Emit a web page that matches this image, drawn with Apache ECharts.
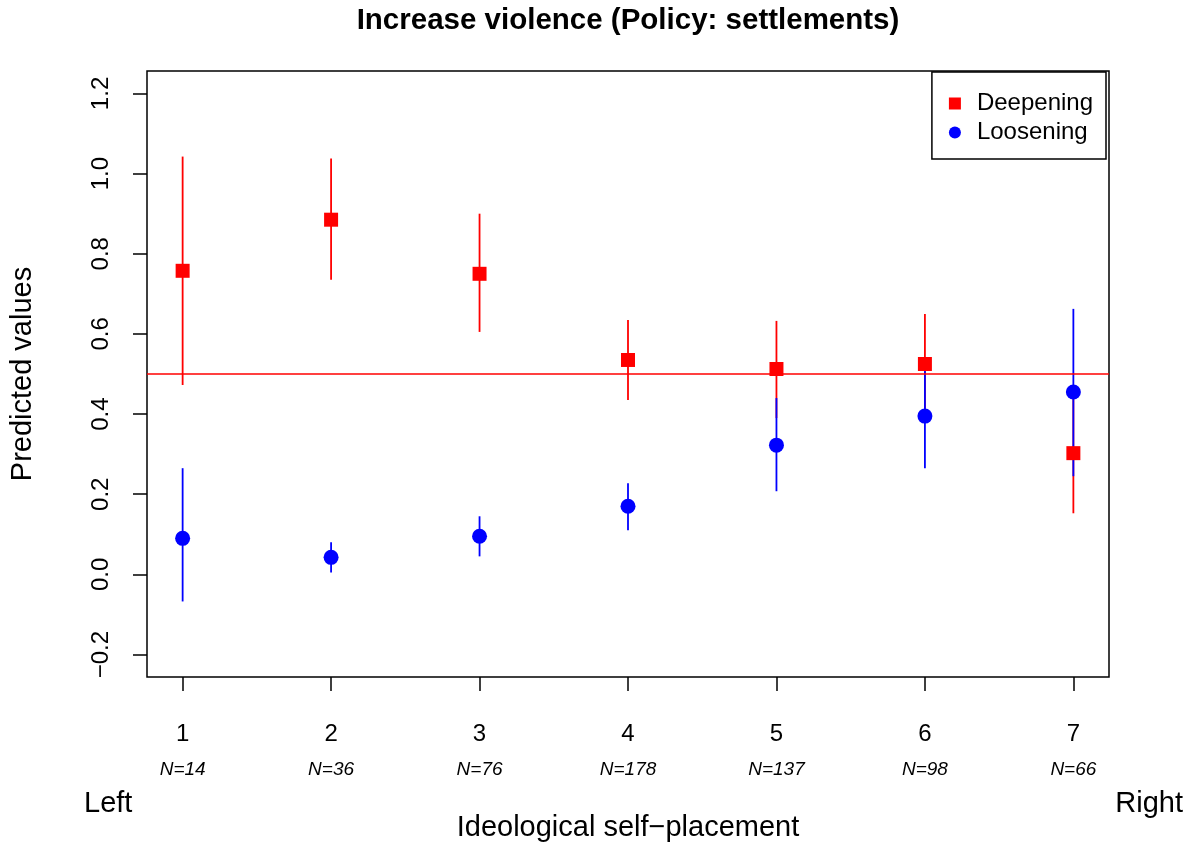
<!DOCTYPE html>
<html>
<head>
<meta charset="utf-8">
<script src="https://cdn.jsdelivr.net/npm/echarts@6/dist/echarts.min.js"></script>
<style>html,body{margin:0;padding:0;background:#fff;}#main{width:1193px;height:844px;}</style>
</head>
<body>
<div id="main"></div>
<script>
// Data
const positions = [1, 2, 3, 4, 5, 6, 7];
const nLabels = ['N=14', 'N=36', 'N=76', 'N=178', 'N=137', 'N=98', 'N=66'];
const deepFit = [0.7575, 0.885, 0.75, 0.535, 0.5125, 0.525, 0.3025];
const deepLo  = [0.4725, 0.735, 0.605, 0.435, 0.39, 0.40, 0.1525];
const deepHi  = [1.0425, 1.0375, 0.90, 0.635, 0.6325, 0.65, 0.45];
const looseFit = [0.09, 0.0425, 0.095, 0.17, 0.3225, 0.395, 0.455];
const looseLo  = [-0.0675, 0.005, 0.045, 0.11, 0.2075, 0.265, 0.245];
const looseHi  = [0.265, 0.08, 0.145, 0.2275, 0.44, 0.52, 0.6625];
const yTicks = [-0.2, 0, 0.2, 0.4, 0.6, 0.8, 1.0, 1.2];
const refLine = 0.5;

const FONT = 'Liberation Sans, Arial, Helvetica, sans-serif';
const chart = echarts.init(document.getElementById('main'));

function ciSeries(name, color, lo, hi, extra) {
  return Object.assign({
    type: 'custom',
    name: name,
    silent: true,
    data: positions.map((p, i) => [p, lo[i], hi[i]]),
    encode: { x: 0, y: [1, 2] },
    renderItem: function (params, api) {
      const a = api.coord([api.value(0), api.value(1)]);
      const b = api.coord([api.value(0), api.value(2)]);
      return {
        type: 'line',
        shape: { x1: a[0], y1: a[1], x2: b[0], y2: b[1] },
        style: { stroke: color, lineWidth: 1.8 }
      };
    }
  }, extra || {});
}

const option = {
  backgroundColor: '#fff',
  animation: false,
  title: {
    text: 'Increase violence (Policy: settlements)',
    left: 628, top: 6, padding: 0,
    textAlign: 'center',
    textStyle: { fontFamily: FONT, fontSize: 29.5, fontWeight: 'bold', color: '#000' }
  },
  legend: {
    orient: 'vertical',
    right: 87, top: 72,
    data: ['Deepening', 'Loosening'],
    padding: [17, 13, 12, 17],
    itemWidth: 12, itemHeight: 12, itemGap: 0,
    borderColor: '#000', borderWidth: 1.5, borderRadius: 0,
    backgroundColor: '#fff',
    textStyle: { fontFamily: FONT, fontSize: 24, color: '#000', lineHeight: 29, padding: [0, 0, 0, 11] }
  },
  grid: {
    left: 147, right: 84, top: 71, bottom: 167,
    containLabel: false,
    outerBoundsMode: 'none',
    show: true, borderColor: '#000', borderWidth: 1.5, backgroundColor: 'transparent'
  },
  xAxis: {
    type: 'value', min: 0.76, max: 7.24,
    name: 'Ideological self\u2212placement',
    nameLocation: 'middle', nameGap: 136,
    nameTextStyle: { fontFamily: FONT, fontSize: 29, color: '#000' },
    axisLine: { show: false, onZero: false },
    splitLine: { show: false },
    axisTick: { show: true, length: 14, customValues: positions, lineStyle: { color: '#000', width: 1.5 } },
    axisLabel: {
      customValues: positions,
      margin: 40,
      formatter: function (v) {
        const i = positions.indexOf(Math.round(v));
        return '{v|' + Math.round(v) + '}\n{n|' + nLabels[i] + '}';
      },
      rich: {
        v: { fontFamily: FONT, fontSize: 24, color: '#000', lineHeight: 35 },
        n: { fontFamily: FONT, fontSize: 19, fontStyle: 'italic', color: '#000', lineHeight: 35 }
      }
    }
  },
  yAxis: {
    type: 'value', min: -0.256, max: 1.256,
    name: 'Predicted values',
    nameLocation: 'middle', nameGap: 110, nameRotate: 90,
    nameTextStyle: { fontFamily: FONT, fontSize: 29, color: '#000' },
    axisLine: { show: false, onZero: false },
    splitLine: { show: false },
    axisTick: { show: true, length: 14, customValues: yTicks, lineStyle: { color: '#000', width: 1.5 } },
    axisLabel: {
      customValues: yTicks,
      rotate: 90, margin: 34,
      fontFamily: FONT, fontSize: 24, color: '#000',
      formatter: function (v) { return v < 0 ? '\u2212' + Math.abs(v).toFixed(1) : v.toFixed(1); }
    }
  },
  graphic: [
    { type: 'text', left: 84, top: 789, style: { text: 'Left', fontFamily: FONT, fontSize: 29, fill: '#000' } },
    { type: 'text', right: 10, top: 789, style: { text: 'Right', fontFamily: FONT, fontSize: 29, fill: '#000' } }
  ],
  series: [
    ciSeries('Deepening CI', '#ff0000', deepLo, deepHi, {
      z: 1,
      markLine: {
        silent: true, symbol: 'none', label: { show: false },
        lineStyle: { color: '#ff0000', width: 1.6, type: 'solid' },
        data: [{ yAxis: refLine }]
      }
    }),
    ciSeries('Loosening CI', '#0000ff', looseLo, looseHi, { z: 2 }),
    {
      type: 'scatter', name: 'Deepening', z: 3,
      symbol: 'rect', symbolSize: 14,
      itemStyle: { color: '#ff0000', opacity: 1 },
      data: positions.map((p, i) => [p, deepFit[i]])
    },
    {
      type: 'scatter', name: 'Loosening', z: 4,
      symbol: 'circle', symbolSize: 15,
      itemStyle: { color: '#0000ff', opacity: 1 },
      data: positions.map((p, i) => [p, looseFit[i]])
    }
  ]
};
chart.setOption(option);
</script>
</body>
</html>
